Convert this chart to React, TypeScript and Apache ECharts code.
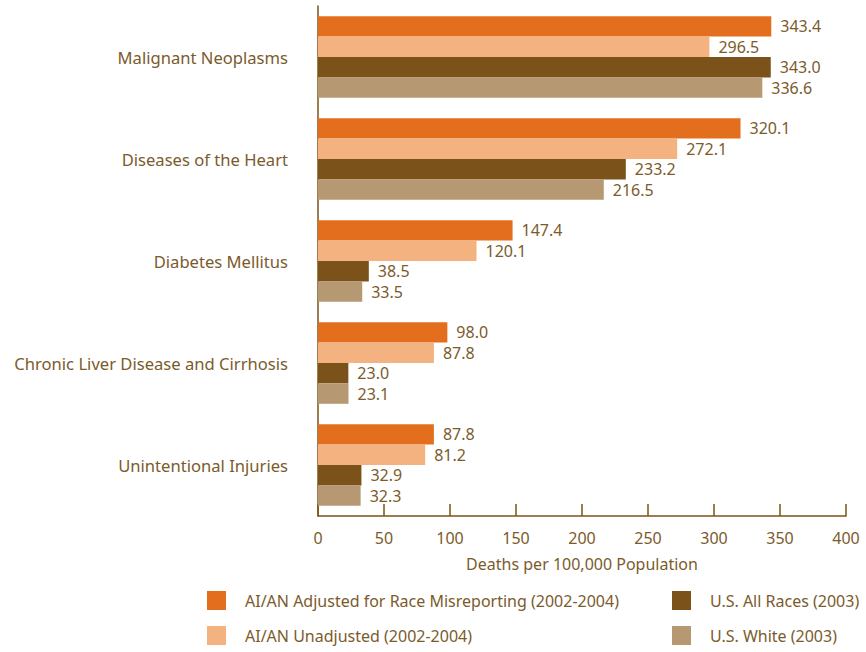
import React, { useEffect, useRef } from "react";
import * as echarts from "echarts";

const categories = [
  "Malignant Neoplasms",
  "Diseases of the Heart",
  "Diabetes Mellitus",
  "Chronic Liver Disease and Cirrhosis",
  "Unintentional Injuries",
];
const seriesNames = [
  "AI/AN Adjusted for Race Misreporting (2002-2004)",
  "AI/AN Unadjusted (2002-2004)",
  "U.S. All Races (2003)",
  "U.S. White (2003)",
];
const adjusted = [343.4, 320.1, 147.4, 98.0, 87.8];
const unadjusted = [296.5, 272.1, 120.1, 87.8, 81.2];
const allRaces = [343.0, 233.2, 38.5, 23.0, 32.9];
const white = [336.6, 216.5, 33.5, 23.1, 32.3];
const xTicks = [0, 50, 100, 150, 200, 250, 300, 350, 400];

const colors = ["#E36F1E", "#F3B280", "#7B531A", "#B69972"];
const textColor = "#7B5B2C";
const font = "Noto Sans";
const fs = 16;

export default function App() {
  const ref = useRef<HTMLDivElement>(null);
  useEffect(() => {
    if (!ref.current) return;
    const chart = echarts.init(ref.current, null, { renderer: "svg" });
    const values = [adjusted, unadjusted, allRaces, white];
    const legendBase = {
      orient: "vertical",
      top: 591,
      padding: 0,
      height: 60,
      itemWidth: 19,
      itemHeight: 19,
      itemGap: 16,
      icon: "rect",
      textStyle: { color: textColor, fontSize: fs, fontFamily: font, padding: [3, 0, 0, 14] },
      selectedMode: false,
    };
    chart.setOption({
      animation: false,
      textStyle: { fontFamily: font, color: textColor },
      grid: { left: 318, right: 20, top: 6, bottom: 136 },
      legend: [
        { ...legendBase, data: [seriesNames[0], seriesNames[1]], left: 207 },
        { ...legendBase, data: [seriesNames[2], seriesNames[3]], left: 672 },
      ],
      xAxis: {
        type: "value",
        min: 0,
        max: 400,
        interval: 50,
        name: "Deaths per 100,000 Population",
        nameLocation: "middle",
        nameGap: 40,
        nameTextStyle: { color: textColor, fontSize: fs, fontFamily: font },
        axisLine: { show: true, lineStyle: { color: "#7B531A", width: 1.5 } },
        axisTick: { show: true, inside: true, length: 12, lineStyle: { color: "#7B531A", width: 1.5 } },
        axisLabel: {
          color: textColor,
          fontSize: fs,
          fontFamily: font,
          margin: 14,
          formatter: (v: number) => (xTicks.includes(v) ? String(v) : ""),
        },
        splitLine: { show: false },
      },
      yAxis: {
        type: "category",
        data: categories,
        inverse: true,
        axisLine: { show: true, lineStyle: { color: "#7B531A", width: 1.5 } },
        axisTick: { show: false },
        axisLabel: { color: textColor, fontSize: 16.6, fontFamily: font, margin: 30, padding: [4, 0, 0, 0] },
      },
      series: seriesNames.map((name, i) => ({
        name,
        type: "bar",
        data: values[i],
        barGap: "0%",
        barCategoryGap: "20%",
        itemStyle: { color: colors[i] },
        label: {
          show: true,
          position: "right",
          distance: 9,
          color: textColor,
          fontSize: fs,
          fontFamily: font,
          formatter: (p: any) => p.value.toFixed(1),
        },
      })),
    });
    return () => chart.dispose();
  }, []);
  return <div ref={ref} style={{ width: 866, height: 652, position: "absolute", left: 0, top: 0 }} />;
}
